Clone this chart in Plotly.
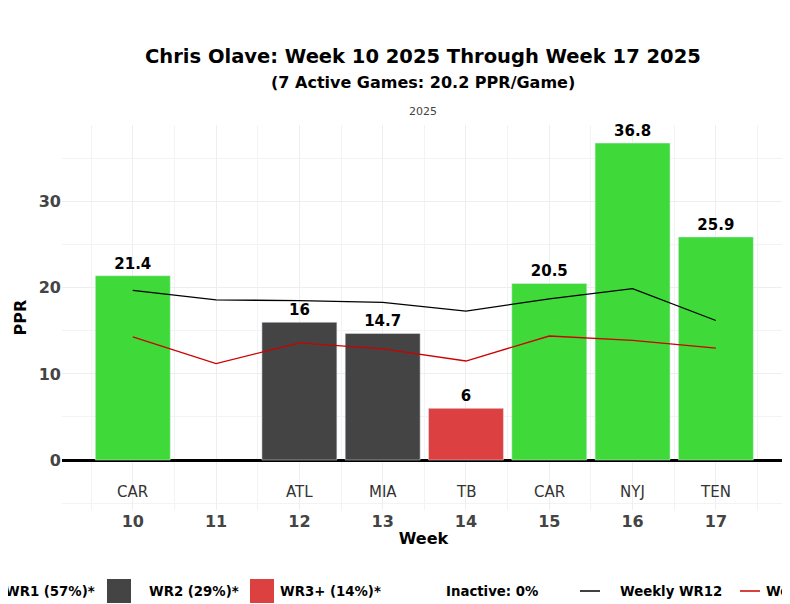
import plotly.graph_objects as go

weeks = [10, 11, 12, 13, 14, 15, 16, 17]
opponents = ["CAR", "", "ATL", "MIA", "TB", "CAR", "NYJ", "TEN"]
ppr = [21.4, None, 16, 14.7, 6, 20.5, 36.8, 25.9]
tier = ["WR1", None, "WR2", "WR2", "WR3+", "WR1", "WR1", "WR1"]
wr12 = [19.7, 18.6, 18.5, 18.3, 17.3, 18.7, 19.9, 16.2]
wr24 = [14.3, 11.2, 13.6, 12.9, 11.5, 14.4, 13.9, 13.0]

colors = {"WR1": "#3fd93a", "WR2": "#444444", "WR3+": "#dd4040"}
names = {"WR1": "WR1 (57%)*", "WR2": "WR2 (29%)*", "WR3+": "WR3+ (14%)*"}

OFF = 8  # page offset
W, H = 790, 604
L, R, T, B = 54, 13, 117, 102
PW = W - L - R
PH = H - T - B
def px(x):  # page pixel x -> paper
    return (x - OFF - L) / PW
def py(y):
    return (H - B - (y - OFF)) / PH

fig = go.Figure()
for t in ["WR1", "WR2", "WR3+"]:
    xs = [w for w, tt in zip(weeks, tier) if tt == t]
    ys = [p for p, tt in zip(ppr, tier) if tt == t]
    fig.add_trace(go.Bar(x=xs, y=ys, name=names[t], marker_color=colors[t], width=0.9,
                         text=[f"<b>{v:g}</b>" for v in ys], textposition="outside",
                         textfont=dict(size=15, color="black", family="DejaVu Sans"),
                         cliponaxis=False, showlegend=False))
fig.add_trace(go.Scatter(x=weeks, y=wr12, mode="lines", name="Weekly WR12",
                         line=dict(color="black", width=1.3), showlegend=False))
fig.add_trace(go.Scatter(x=weeks, y=wr24, mode="lines", name="Weekly WR24",
                         line=dict(color="#cc0000", width=1.3), showlegend=False))

for w, o in zip(weeks, opponents):
    if o:
        fig.add_annotation(x=w, y=-3.7, text=o, showarrow=False,
                           font=dict(size=15, color="#333", family="DejaVu Sans"))

# titles
fig.add_annotation(x=px(423), y=py(56), xref="paper", yref="paper", showarrow=False,
                   text="<b>Chris Olave: Week 10 2025 Through Week 17 2025</b>",
                   font=dict(size=19.5, color="black"), yanchor="middle")
fig.add_annotation(x=px(423), y=py(82), xref="paper", yref="paper", showarrow=False,
                   text="<b>(7 Active Games: 20.2 PPR/Game)</b>",
                   font=dict(size=16, color="black"), yanchor="middle")
fig.add_annotation(x=px(423), y=py(111), xref="paper", yref="paper", text="2025", showarrow=False,
                   font=dict(size=11, color="#444"), yanchor="middle")

# manual legend (overflows page like reference)
ly = py(591)
items = [("rect", -30, -5, colors["WR1"], "WR1 (57%)*", 97),
         ("rect", 107, 131, colors["WR2"], "WR2 (29%)*", 241),
         ("rect", 250, 274, colors["WR3+"], "WR3+ (14%)*", 383),
         (None, 0, 0, None, "Inactive: 0%", 540),
         ("line", 580, 600, "black", "Weekly WR12", 724),
         ("line", 740, 760, "#cc0000", "Weekly WR24", 870)]
shapes = []
for kind, x0, x1, col, label, tend in items:
    if kind == "rect":
        shapes.append(dict(type="rect", xref="paper", yref="paper", x0=px(x0), x1=px(x1),
                           y0=py(603), y1=py(579), fillcolor=col, line=dict(width=0)))
    elif kind == "line":
        shapes.append(dict(type="line", xref="paper", yref="paper", x0=px(x0), x1=px(x1),
                           y0=ly, y1=ly, line=dict(color=col, width=1.5)))
    fig.add_annotation(x=px(tend), y=ly, xref="paper", yref="paper", text=f"<b>{label}</b>",
                       xanchor="right", yanchor="middle", showarrow=False,
                       font=dict(size=13.3, color="black"))

fig.update_layout(
    width=W, height=H, plot_bgcolor="white", paper_bgcolor="white",
    margin=dict(l=L, r=R, t=T, b=B, autoexpand=False),
    font=dict(family="DejaVu Sans"), shapes=shapes,
    barmode="overlay", showlegend=False,
    xaxis=dict(range=[9.15, 17.83], tickvals=weeks, ticktext=[f"<b>{w}</b>" for w in weeks],
               tickfont=dict(size=16, color="#444"), showgrid=True, gridcolor="#eeeeee",
               title=dict(text="<b>Week</b>", font=dict(size=16, color="black"), standoff=2),
               zeroline=False),
    yaxis=dict(range=[-5.8, 38.9], tickvals=[0, 10, 20, 30], ticktext=["<b>0</b>", "<b>10</b>", "<b>20</b>", "<b>30</b>"],
               tickfont=dict(size=16, color="#444"), showgrid=True, gridcolor="#eeeeee",
               zeroline=True, zerolinecolor="black", zerolinewidth=3,
               title=dict(text="<b>PPR</b>", font=dict(size=16, color="black"), standoff=8)),
)
fig.update_yaxes(minor=dict(tickvals=[-5, 5, 15, 25, 35], showgrid=True, gridcolor="#f3f3f3"))
fig.update_xaxes(minor=dict(tickvals=[9.5 + i for i in range(9)], showgrid=True, gridcolor="#f3f3f3"))

fig.write_html("out.html")
